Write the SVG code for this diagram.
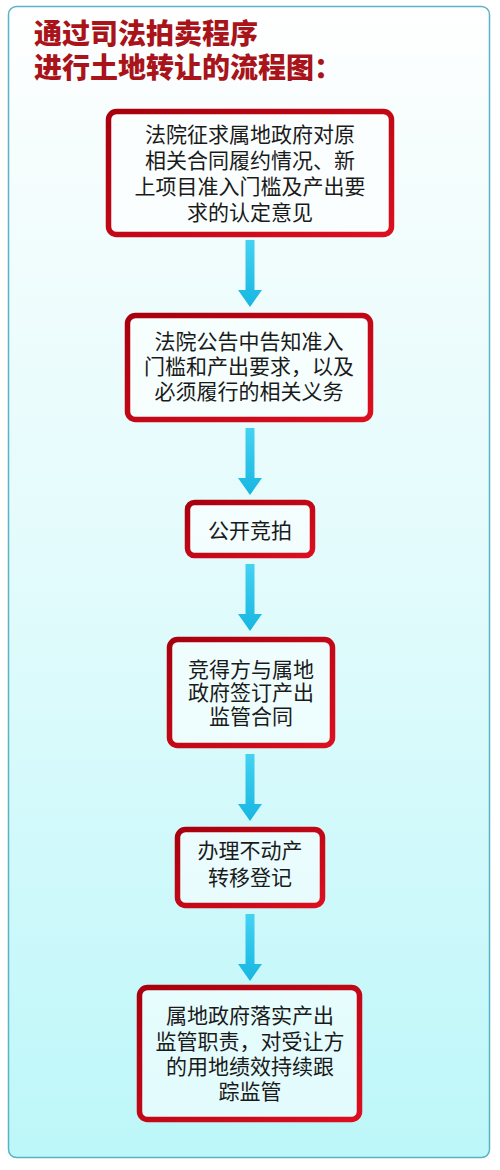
<svg xmlns="http://www.w3.org/2000/svg" width="500" height="1170" viewBox="0 0 500 1170">
  <defs>
    <linearGradient id="bg" x1="0" y1="0" x2="0" y2="1">
      <stop offset="0" stop-color="#ffffff"/>
      <stop offset="0.12" stop-color="#f6fdfd"/>
      <stop offset="0.5" stop-color="#e2fbfc"/>
      <stop offset="1" stop-color="#bdf7f9"/>
    </linearGradient>
    <linearGradient id="red" x1="0" y1="0" x2="1" y2="1">
      <stop offset="0" stop-color="#a8000e"/>
      <stop offset="1" stop-color="#dc0f1f"/>
    </linearGradient>
    <linearGradient id="cyan" x1="0" y1="0" x2="0" y2="1">
      <stop offset="0" stop-color="#45d2f2"/>
      <stop offset="1" stop-color="#16b6e2"/>
    </linearGradient>
    <path id="arrow" d="M-4.5,0 H4.5 V50 H12 L0,67 L-12,50 H-4.5 Z" fill="url(#cyan)"/>
    <style>
      .box { fill: #ffffff; fill-opacity: 0.55; stroke: url(#red); stroke-width: 5.5; }
      .t { font-family: "Noto Sans CJK SC", "Noto Sans", sans-serif; font-size: 21px; fill: #1a1a1a; text-anchor: middle; }
      .title { font-family: "Noto Sans CJK SC", "Noto Sans", sans-serif; font-size: 28px; font-weight: 900; fill: #a8141a; }
    </style>
  </defs>

  <rect x="0" y="0" width="500" height="1170" fill="#ffffff"/>
  <rect x="8.5" y="6.5" width="481" height="1151" rx="8" fill="url(#bg)" stroke="#5ab2c6" stroke-width="1.5"/>

  <g id="title">
    <text class="title"><tspan x="34" y="44">通过司法拍卖程序</tspan><tspan x="34" y="78">进行土地转让的流程图：</tspan></text>
  </g>

  <g id="connectors">
    <use href="#arrow" x="250" y="240"/>
    <use href="#arrow" x="250" y="428"/>
    <use href="#arrow" x="250" y="564"/>
    <use href="#arrow" x="250" y="754"/>
    <use href="#arrow" x="250" y="914"/>
  </g>

  <g id="node1">
    <rect class="box" x="108.5" y="111.5" width="283" height="123" rx="8"/>
    <text class="t"><tspan x="250" y="142">法院征求属地政府对原</tspan><tspan x="250" y="168">相关合同履约情况、新</tspan><tspan x="250" y="194">上项目准入门槛及产出要</tspan><tspan x="250" y="220">求的认定意见</tspan></text>
  </g>

  <g id="node2">
    <rect class="box" x="127.5" y="315.5" width="243" height="104" rx="8"/>
    <text class="t"><tspan x="249" y="349">法院公告中告知准入</tspan><tspan x="249" y="374">门槛和产出要求，以及</tspan><tspan x="249" y="399">必须履行的相关义务</tspan></text>
  </g>

  <g id="node3">
    <rect class="box" x="187.5" y="502.5" width="125" height="53" rx="7"/>
    <text class="t" x="250" y="538">公开竞拍</text>
  </g>

  <g id="node4">
    <rect class="box" x="169.5" y="639.5" width="163" height="106" rx="8"/>
    <text class="t"><tspan x="251" y="677">竞得方与属地</tspan><tspan x="251" y="700">政府签订产出</tspan><tspan x="251" y="724">监管合同</tspan></text>
  </g>

  <g id="node5">
    <rect class="box" x="177.5" y="829.5" width="145" height="76" rx="8"/>
    <text class="t"><tspan x="250" y="858">办理不动产</tspan><tspan x="250" y="885">转移登记</tspan></text>
  </g>

  <g id="node6">
    <rect class="box" x="139.5" y="987.5" width="220" height="132" rx="8"/>
    <text class="t"><tspan x="250" y="1023">属地政府落实产出</tspan><tspan x="250" y="1049">监管职责，对受让方</tspan><tspan x="250" y="1074">的用地绩效持续跟</tspan><tspan x="250" y="1099">踪监管</tspan></text>
  </g>
</svg>
